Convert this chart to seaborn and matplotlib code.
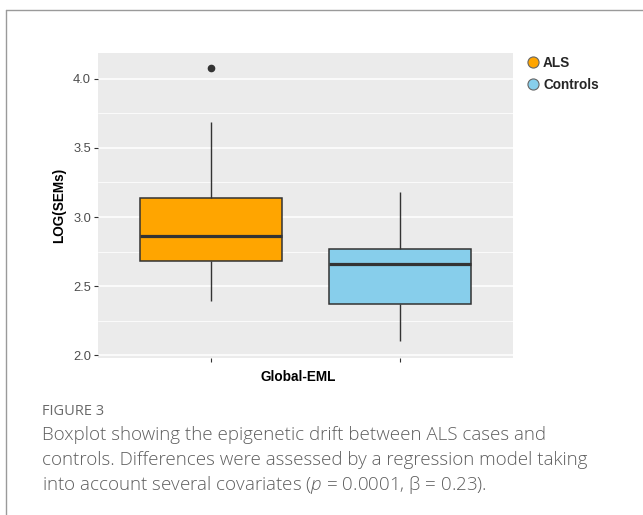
import numpy as np
import pandas as pd
import matplotlib
matplotlib.use("Agg")
import matplotlib.pyplot as plt
from matplotlib.lines import Line2D
from matplotlib.ticker import MultipleLocator
import seaborn as sns

# values (min, Q1, median, Q3, whisker max, outlier)
als_values = [2.39, 2.68, 2.68, 2.86, 2.86, 3.14, 3.14, 3.69, 4.08]
control_values = [2.10, 2.37, 2.66, 2.77, 3.18]
groups = ["ALS", "Controls"]
colors = ["#FFA500", "#87CEEB"]

df = pd.DataFrame({
    "grupo": ["ALS"] * len(als_values) + ["Controls"] * len(control_values),
    "log_sems": als_values + control_values,
})

sns.set_style("white")
plt.rcParams["font.family"] = ["Liberation Sans", "DejaVu Sans"]
plt.rcParams["mathtext.fontset"] = "custom"
plt.rcParams["mathtext.it"] = "Open Sans:italic:light"
plt.rcParams["mathtext.rm"] = "Open Sans:light"

fig = plt.figure(figsize=(6.43, 5.15), dpi=100)
ax = fig.add_axes([98 / 643, 1 - 358 / 515, (513 - 98) / 643, (358 - 53) / 515])

# ggplot benzeri panel
ax.set_facecolor("#EBEBEB")
ax.set_axisbelow(True)
ax.yaxis.set_major_locator(MultipleLocator(0.5))
ax.yaxis.set_minor_locator(MultipleLocator(0.25))
ax.grid(which="major", color="white", linewidth=1.1)
ax.grid(which="minor", axis="y", color="white", linewidth=0.55)

sns.boxplot(data=df, x="grupo", y="log_sems", hue="grupo", order=groups, hue_order=groups,
            palette=colors, saturation=1, width=0.75, dodge=False, showcaps=False, legend=False,
            linecolor="#333333", linewidth=1.1, ax=ax,
            medianprops=dict(linewidth=2.3, color="#333333"),
            whiskerprops=dict(linewidth=1.0, color="#333333"),
            flierprops=dict(marker="o", markersize=4.5, markerfacecolor="#333333",
                            markeredgecolor="#333333"))

ax.set_xlim(-0.6, 1.6)
ax.set_ylim(1.98, 4.187)
for s in ax.spines.values():
    s.set_visible(False)
ax.set_xticks([0, 1])
ax.set_xticklabels(["", ""])
ax.tick_params(axis="both", which="major", length=3, width=0.8, color="#333333",
               labelcolor="#4D4D4D", labelsize=9.3, left=True, bottom=True, pad=2)
ax.tick_params(which="minor", length=0)
ax.set_xlabel("Global-EML", fontsize=9.8, fontweight="bold", color="black")
ax.xaxis.set_label_coords((298 - 98) / 415, -(370 - 358) / 305)
ax.set_ylabel("LOG(SEMs)", fontsize=9.8, fontweight="bold", color="black", labelpad=5)

# lejant
handles = [Line2D([], [], linestyle="none", marker="o", markersize=8, markerfacecolor=c,
                  markeredgecolor="#666666", markeredgewidth=0.8) for c in colors]
fig.legend(handles, groups, loc="upper left", bbox_to_anchor=(526 / 643, 1 - 56 / 515),
           frameon=False, handlelength=1.0, handletextpad=0.25, labelspacing=0.6,
           borderaxespad=0, borderpad=0, prop={"weight": "bold", "size": 9.8})

# çerçeve çizgileri
fig.add_artist(Line2D([6 / 643, 1], [1 - 9.5 / 515, 1 - 9.5 / 515], color="#9A9A9A", linewidth=1))
fig.add_artist(Line2D([6 / 643, 6 / 643], [0, 1 - 9.5 / 515], color="#9A9A9A", linewidth=1))

# şekil açıklaması
cap_font = ["Open Sans", "DejaVu Sans"]
fig.text(42 / 643, 1 - 415 / 515, "FIGURE 3", family=cap_font, fontsize=10.5, color="#6A6A6A",
         va="baseline", ha="left")
caption = ["Boxplot showing the epigenetic drift between ALS cases and",
           "controls. Differences were assessed by a regression model taking",
           "into account several covariates ($p$ = 0.0001, β = 0.23)."]
for i, line in enumerate(caption):
    fig.text(42 / 643, 1 - (440 + 25 * i) / 515, line, family=cap_font, fontsize=13.5,
             fontweight="light", color="#5E5E5E", va="baseline", ha="left")

fig.savefig("out.png", dpi=100)
